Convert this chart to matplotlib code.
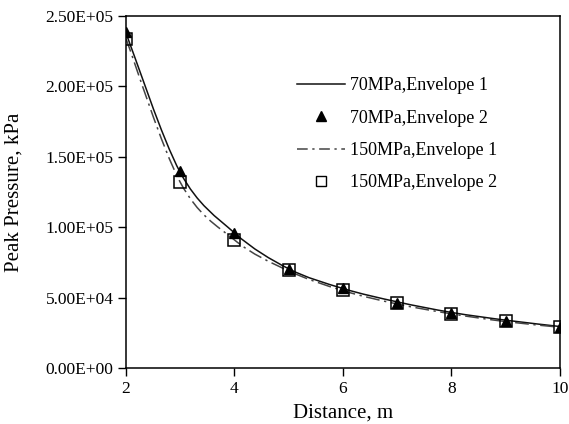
import matplotlib.pyplot as plt
from matplotlib.path import Path
from matplotlib.patches import PathPatch
from matplotlib.lines import Line2D

plt.rcParams['font.family'] = ['Liberation Serif', 'DejaVu Serif']

# distances (m)
distance = [2, 3, 4, 5, 6, 7, 8, 9, 10]
# peak pressure (kPa)
p70_env1 = [2.38e5, 1.39e5, 9.6e4, 7.05e4, 5.65e4, 4.7e4, 3.95e4, 3.4e4, 2.95e4]
p70_env2 = [2.39e5, 1.40e5, 9.6e4, 7.05e4, 5.65e4, 4.65e4, 3.9e4, 3.35e4, 2.9e4]
p150_env1 = [2.34e5, 1.32e5, 9.1e4, 6.9e4, 5.5e4, 4.55e4, 3.85e4, 3.3e4, 2.9e4]
p150_env2 = [2.34e5, 1.32e5, 9.1e4, 6.95e4, 5.55e4, 4.6e4, 3.85e4, 3.35e4, 2.95e4]

labels = ['70MPa,Envelope 1', '70MPa,Envelope 2',
          '150MPa,Envelope 1', '150MPa,Envelope 2']
yticks = [0, 5e4, 1e5, 1.5e5, 2e5, 2.5e5]
yticklabels = ['0.00E+00', '5.00E+04', '1.00E+05', '1.50E+05', '2.00E+05', '2.50E+05']
xticks = [2, 4, 6, 8, 10]


def smooth_path(xs, ys):
    # Excel-style smoothed line: Bezier segments through every point
    verts = [(xs[0], ys[0])]
    codes = [Path.MOVETO]
    n = len(xs)
    for i in range(n - 1):
        x0, y0 = (xs[i - 1], ys[i - 1]) if i > 0 else (xs[i], ys[i])
        x1, y1 = xs[i], ys[i]
        x2, y2 = xs[i + 1], ys[i + 1]
        x3, y3 = (xs[i + 2], ys[i + 2]) if i + 2 < n else (x2, y2)
        c1 = (x1 + (x2 - x0) / 6, y1 + (y2 - y0) / 6)
        c2 = (x2 - (x3 - x1) / 6, y2 - (y3 - y1) / 6)
        verts += [c1, c2, (x2, y2)]
        codes += [Path.CURVE4] * 3
    return Path(verts, codes)


fig = plt.figure(figsize=(5.69, 4.24), dpi=100)
ax = fig.add_axes([0.2214, 0.132, 0.7626, 0.830])

dashdot = (0, (9, 3, 1.5, 3))
ax.add_patch(PathPatch(smooth_path(distance, p70_env1), fill=False,
                       edgecolor='#111111', lw=1.1, zorder=2))
ax.add_patch(PathPatch(smooth_path(distance, p150_env1), fill=False,
                       edgecolor='#444444', lw=1.1, linestyle=dashdot, zorder=2))
ax.plot(distance, p70_env2, linestyle='none', marker='^', ms=7,
        color='black', zorder=4)
ax.plot(distance, p150_env2, linestyle='none', marker='s', ms=9,
        mfc='none', mec='black', mew=1.1, zorder=3)

handles = [
    Line2D([], [], color='#111111', lw=1.1),
    Line2D([], [], linestyle='none', marker='^', ms=7, color='black'),
    Line2D([], [], color='#444444', lw=1.1, linestyle=(0, (7, 3, 1.5, 3))),
    Line2D([], [], linestyle='none', marker='s', ms=7, mfc='none', mec='black'),
]
ax.legend(handles, labels, loc='upper left', bbox_to_anchor=(0.394, 0.826),
          borderaxespad=0, borderpad=0, frameon=False, fontsize=13,
          handlelength=2.67, handletextpad=0.28, labelspacing=0.85)

ax.set_xlim(2, 10)
ax.set_ylim(0, 2.5e5)
ax.set_xticks(xticks)
ax.set_yticks(yticks)
ax.set_yticklabels(yticklabels)
ax.tick_params(direction='out', length=6, width=1, pad=3, labelsize=12.5)
for s in ax.spines.values():
    s.set_linewidth(1.1)

ax.set_xlabel('Distance, m', fontsize=15)
ax.set_ylabel('Peak Pressure, kPa', fontsize=15)
ax.xaxis.set_label_coords(0.501, -0.102)
ax.yaxis.set_label_coords(-0.237, 0.5)

fig.savefig('out.png', dpi=100)
